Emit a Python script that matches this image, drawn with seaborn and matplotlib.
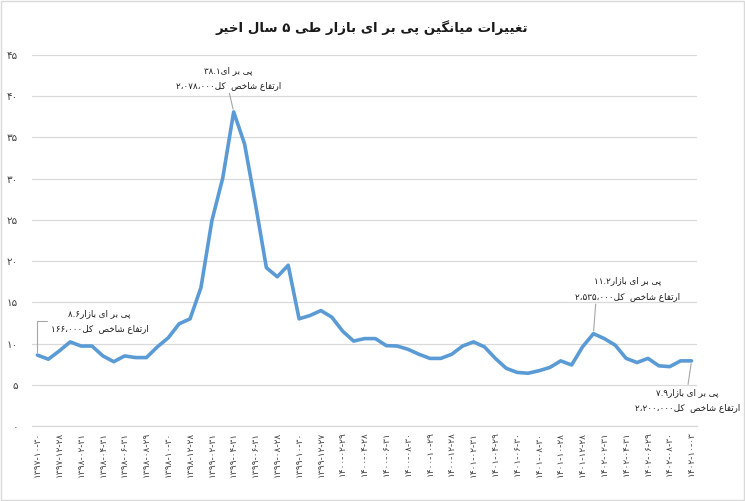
import re
import numpy as np
import pandas as pd
import matplotlib
matplotlib.use("Agg")
import matplotlib.pyplot as plt
from matplotlib.patches import Rectangle
import seaborn as sns

# ---------------- data ----------------
title_text = "تغییرات میانگین پی بر ای بازار طی ۵ سال اخیر"

pe_values = [8.6, 8.1, 9.1, 10.2, 9.7, 9.7, 8.5, 7.8, 8.5, 8.3,
             8.3, 9.6, 10.7, 12.4, 13.0, 16.8, 24.9, 30.1, 38.1, 34.2,
             26.9, 19.2, 18.1, 19.5, 13.0, 13.4, 14.0, 13.2, 11.5, 10.3,
             10.6, 10.6, 9.75, 9.7, 9.3, 8.7, 8.2, 8.2, 8.7, 9.7,
             10.2, 9.6, 8.2, 7.0, 6.5, 6.4, 6.7, 7.1, 7.9, 7.4,
             9.6, 11.2, 10.6, 9.8, 8.2, 7.7, 8.2, 7.3, 7.2, 7.9,
             7.9]

tick_labels = ["۱۳۹۷-۱۰-۳۰", "۱۳۹۷-۱۲-۲۸", "۱۳۹۸-۰۲-۳۱", "۱۳۹۸-۰۴-۳۱",
               "۱۳۹۸-۰۶-۳۱", "۱۳۹۸-۰۸-۲۹", "۱۳۹۸-۱۰-۳۰", "۱۳۹۸-۱۲-۲۸",
               "۱۳۹۹-۰۲-۳۱", "۱۳۹۹-۰۴-۳۱", "۱۳۹۹-۰۶-۳۱", "۱۳۹۹-۰۸-۲۸",
               "۱۳۹۹-۱۰-۳۰", "۱۳۹۹-۱۲-۲۷", "۱۴۰۰-۰۲-۲۹", "۱۴۰۰-۰۴-۲۸",
               "۱۴۰۰-۰۶-۳۱", "۱۴۰۰-۰۸-۳۰", "۱۴۰۰-۱۰-۲۹", "۱۴۰۰-۱۲-۲۸",
               "۱۴۰۱-۰۲-۳۱", "۱۴۰۱-۰۴-۲۹", "۱۴۰۱-۰۶-۳۰", "۱۴۰۱-۰۸-۳۰",
               "۱۴۰۱-۱۰-۲۸", "۱۴۰۱-۱۲-۲۸", "۱۴۰۲-۰۲-۳۱", "۱۴۰۲-۰۴-۳۱",
               "۱۴۰۲-۰۶-۲۹", "۱۴۰۲-۰۸-۳۰", "۱۴۰۲-۱۰-۰۳"]

y_ticks = [0, 5, 10, 15, 20, 25, 30, 35, 40, 45]

annot_index = [0, 18, 51, 60]
annot_pe_prefix = ["پی بر ای بازار", "پی بر ای", "پی بر ای بازار", "پی بر ای بازار"]
annot_index_level = [166000, 2078000, 2535000, 2200000]
annot_index_prefix = "ارتفاع شاخص  کل"

# ---------------- minimal Persian shaping / bidi ----------------
FORMS = {
    "ا": ("\uFE8D", "\uFE8E"),
    "د": ("\uFEA9", "\uFEAA"),
    "ر": ("\uFEAD", "\uFEAE"),
    "ز": ("\uFEAF", "\uFEB0"),
    "و": ("\uFEED", "\uFEEE"),
    "ب": ("\uFE8F", "\uFE90", "\uFE91", "\uFE92"),
    "پ": ("\uFB56", "\uFB57", "\uFB58", "\uFB59"),
    "ت": ("\uFE95", "\uFE96", "\uFE97", "\uFE98"),
    "خ": ("\uFEA5", "\uFEA6", "\uFEA7", "\uFEA8"),
    "س": ("\uFEB1", "\uFEB2", "\uFEB3", "\uFEB4"),
    "ش": ("\uFEB5", "\uFEB6", "\uFEB7", "\uFEB8"),
    "ص": ("\uFEB9", "\uFEBA", "\uFEBB", "\uFEBC"),
    "ط": ("\uFEC1", "\uFEC2", "\uFEC3", "\uFEC4"),
    "ع": ("\uFEC9", "\uFECA", "\uFECB", "\uFECC"),
    "غ": ("\uFECD", "\uFECE", "\uFECF", "\uFED0"),
    "ف": ("\uFED1", "\uFED2", "\uFED3", "\uFED4"),
    "ک": ("\uFB8E", "\uFB8F", "\uFB90", "\uFB91"),
    "گ": ("\uFB92", "\uFB93", "\uFB94", "\uFB95"),
    "ل": ("\uFEDD", "\uFEDE", "\uFEDF", "\uFEE0"),
    "م": ("\uFEE1", "\uFEE2", "\uFEE3", "\uFEE4"),
    "ن": ("\uFEE5", "\uFEE6", "\uFEE7", "\uFEE8"),
    "ه": ("\uFEE9", "\uFEEA", "\uFEEB", "\uFEEC"),
    "ی": ("\uFBFC", "\uFBFD", "\uFBFE", "\uFBFF"),
}


def shape(s):
    out = []
    for i, c in enumerate(s):
        if c not in FORMS:
            out.append(c)
            continue
        f = FORMS[c]
        prev = s[i - 1] if i > 0 else None
        nxt = s[i + 1] if i + 1 < len(s) else None
        jp = prev in FORMS and len(FORMS[prev]) == 4
        jn = len(f) == 4 and nxt in FORMS
        if jp and jn:
            out.append(f[3])
        elif jp:
            out.append(f[1])
        elif jn:
            out.append(f[2])
        else:
            out.append(f[0])
    return "".join(out)


NUMRUN = re.compile(r"[0-9۰-۹](?:[0-9۰-۹.,،٬\-]*[0-9۰-۹])?")


def visual(s):
    r = shape(s)[::-1]
    return NUMRUN.sub(lambda m: m.group(0)[::-1], r)


FA_DIGITS = str.maketrans("0123456789,", "۰۱۲۳۴۵۶۷۸۹،")


def fa(x):
    return str(x).translate(FA_DIGITS)


# ---------------- plot ----------------
sns.set_style("white")
plt.rcParams["font.family"] = ["DejaVu Sans", "Noto Sans"]

fig = plt.figure(figsize=(7.45, 5.01), dpi=100)
ax = fig.add_axes([32 / 745, 75 / 501, 665 / 745, 371 / 501])

df = pd.DataFrame({"x": np.arange(len(pe_values)), "pe": pe_values})
sns.lineplot(data=df, x="x", y="pe", ax=ax, color="#5B9BD5", linewidth=2.6)

ax.set_xlim(-0.5, len(pe_values) - 0.5)
ax.set_ylim(0, 45)
ax.set_yticks(y_ticks)
ax.set_yticklabels([fa(v) for v in y_ticks], fontsize=7.5, color="#404040")
ax.set_xticks(np.arange(0, len(pe_values), 2))
ax.set_xticklabels(tick_labels, rotation=90, fontsize=6.5, color="#404040")
ax.tick_params(axis="both", length=0, pad=4)
ax.tick_params(axis="y", pad=10)
ax.set_xlabel("")
ax.set_ylabel("")
ax.yaxis.grid(True, color="#d9d9d9", linewidth=0.9)
ax.xaxis.grid(False)
for sp in ["left", "right", "top"]:
    ax.spines[sp].set_visible(False)
ax.spines["bottom"].set_color("#d9d9d9")
ax.spines["bottom"].set_linewidth(0.9)

fig.text(372 / 745, 1 - 28 / 501, visual(title_text), ha="center", va="center",
         fontsize=9.6, fontweight="bold", color="#1a1a1a")

offsets = [(62, 34), (-5, 34), (34, 45), (-4, -39)]
relposes = [(0.0, 0.5), (0.5, 0.0), (0.2, 0.0), (0.5, 1.0)]
for k, idx in enumerate(annot_index):
    line1 = visual(annot_pe_prefix[k] + fa(f"{pe_values[idx]:.1f}"))
    line2 = visual(annot_index_prefix + fa(f"{annot_index_level[k]:,}"))
    conn = "angle,angleA=0,angleB=90,rad=0" if k == 0 else "arc3"
    ax.annotate(line1 + "\n" + line2, xy=(idx, pe_values[idx]), xytext=offsets[k],
                textcoords="offset pixels", ha="center", va="center",
                fontsize=6.3, color="#1a1a1a", multialignment="center",
                linespacing=1.9, annotation_clip=False,
                arrowprops=dict(arrowstyle="-", color="#a6a6a6", lw=0.8,
                                relpos=relposes[k], connectionstyle=conn,
                                shrinkA=0, shrinkB=2))

fig.patches.append(Rectangle((0.001, 0.001), 0.998, 0.998, transform=fig.transFigure,
                             fill=False, edgecolor="#d9d9d9", linewidth=1))

fig.savefig("out.png", dpi=100)
